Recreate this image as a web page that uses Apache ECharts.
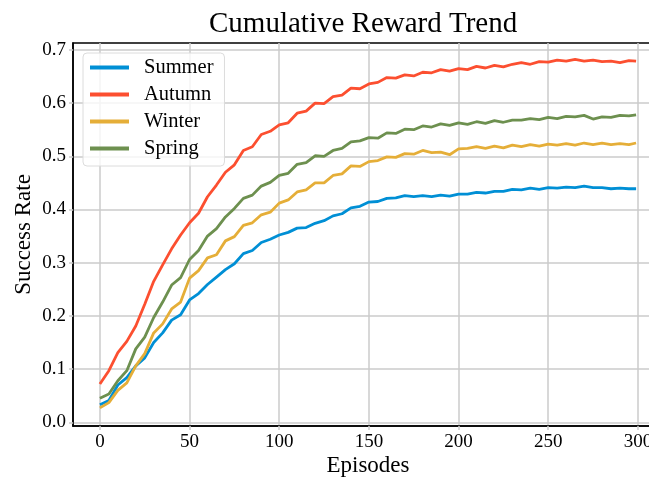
<!DOCTYPE html>
<html>
<head>
<meta charset="utf-8">
<script src="https://cdn.jsdelivr.net/npm/echarts@6.0.0/dist/echarts.min.js"></script>
<style>
  html, body { margin: 0; padding: 0; background: #fff; }
  #chart { width: 649px; height: 477px; }
</style>
</head>
<body>
<div id="chart"></div>
<script>
// episodes sampled every 5 steps (last one is 299)
const episodes = [0, 5, 10, 15, 20, 25, 30, 35, 40, 45, 50, 55, 60, 65, 70, 75, 80, 85, 90, 95,
  100, 105, 110, 115, 120, 125, 130, 135, 140, 145, 150, 155, 160, 165, 170, 175, 180, 185, 190, 195,
  200, 205, 210, 215, 220, 225, 230, 235, 240, 245, 250, 255, 260, 265, 270, 275, 280, 285, 290, 295, 299]

const summer = [0.033, 0.041, 0.070, 0.084, 0.106, 0.121, 0.150, 0.168, 0.192, 0.202,
  0.230, 0.242, 0.259, 0.273, 0.287, 0.298, 0.317, 0.323, 0.338, 0.344,
  0.352, 0.357, 0.365, 0.366, 0.374, 0.379, 0.388, 0.392, 0.403, 0.406,
  0.414, 0.415, 0.421, 0.422, 0.426, 0.424, 0.426, 0.424, 0.427, 0.425,
  0.429, 0.429, 0.432, 0.431, 0.434, 0.434, 0.438, 0.437, 0.440, 0.438,
  0.441, 0.440, 0.442, 0.441, 0.444, 0.441, 0.441, 0.439, 0.440, 0.439, 0.439]

const autumn = [0.072, 0.097, 0.131, 0.152, 0.181, 0.222, 0.265, 0.296, 0.326, 0.352,
  0.375, 0.393, 0.424, 0.446, 0.470, 0.484, 0.511, 0.518, 0.541, 0.547,
  0.559, 0.563, 0.581, 0.585, 0.600, 0.599, 0.612, 0.615, 0.628, 0.627,
  0.636, 0.639, 0.648, 0.647, 0.653, 0.651, 0.658, 0.657, 0.663, 0.660,
  0.665, 0.663, 0.669, 0.666, 0.671, 0.668, 0.673, 0.676, 0.673, 0.678,
  0.677, 0.681, 0.679, 0.682, 0.679, 0.681, 0.678, 0.679, 0.676, 0.680, 0.679]

const winter = [0.027, 0.037, 0.060, 0.074, 0.106, 0.129, 0.168, 0.185, 0.213, 0.226,
  0.271, 0.285, 0.309, 0.315, 0.341, 0.349, 0.370, 0.375, 0.390, 0.395,
  0.412, 0.418, 0.433, 0.437, 0.450, 0.450, 0.464, 0.467, 0.482, 0.481,
  0.490, 0.492, 0.499, 0.498, 0.505, 0.504, 0.511, 0.507, 0.508, 0.503,
  0.514, 0.515, 0.518, 0.515, 0.519, 0.516, 0.521, 0.518, 0.522, 0.519,
  0.523, 0.521, 0.524, 0.521, 0.525, 0.522, 0.525, 0.522, 0.524, 0.522, 0.525]

const spring = [0.045, 0.053, 0.078, 0.097, 0.138, 0.160, 0.197, 0.226, 0.258, 0.272,
  0.306, 0.323, 0.350, 0.364, 0.386, 0.402, 0.421, 0.427, 0.444, 0.451,
  0.464, 0.468, 0.485, 0.488, 0.501, 0.500, 0.511, 0.515, 0.527, 0.529,
  0.535, 0.534, 0.544, 0.543, 0.551, 0.550, 0.557, 0.555, 0.561, 0.558,
  0.563, 0.560, 0.565, 0.562, 0.567, 0.564, 0.568, 0.568, 0.571, 0.569,
  0.573, 0.571, 0.575, 0.574, 0.577, 0.570, 0.574, 0.573, 0.577, 0.576, 0.578]

const xTicks = [0, 50, 100, 150, 200, 250, 300]
const yTicks = [0, 0.1, 0.2, 0.3, 0.4, 0.5, 0.6, 0.7]

const seriesList = [
  { name: 'Summer', values: summer, color: '#008fd5' },
  { name: 'Autumn', values: autumn, color: '#fc4f30' },
  { name: 'Winter', values: winter, color: '#e5ae38' },
  { name: 'Spring', values: spring, color: '#6d904f' }
]

const font = 'Liberation Serif'
const gridColor = '#cbcbcb'
const chart = echarts.init(document.getElementById('chart'))

chart.setOption({
  animation: false,
  backgroundColor: '#fff',
  title: {
    text: 'Cumulative Reward Trend',
    left: 209,
    top: 10,
    padding: 0,
    textStyle: { fontFamily: font, fontSize: 29, fontWeight: 'normal', color: '#000' }
  },
  legend: {
    orient: 'vertical',
    left: 83,
    top: 53,
    padding: [4, 11, 7, 7],
    icon: 'rect',
    itemWidth: 39,
    itemHeight: 4,
    itemGap: 6,
    borderColor: '#dcdcdc',
    borderWidth: 1,
    borderRadius: 4,
    backgroundColor: 'rgba(255,255,255,0.8)',
    textStyle: { fontFamily: font, fontSize: 20.5, lineHeight: 20, color: '#000', padding: [0, 0, 0, 10] }
  },
  grid: {
    left: 73,
    right: -14,
    top: 43,
    bottom: 51,
    outerBoundsMode: 'none',
    show: true,
    borderColor: '#000',
    borderWidth: 1.5,
    backgroundColor: 'transparent'
  },
  xAxis: {
    type: 'value',
    min: -15,
    max: 314,
    name: 'Episodes',
    nameLocation: 'middle',
    nameGap: 28,
    nameMoveOverlap: false,
    nameTextStyle: { fontFamily: font, fontSize: 23, color: '#000' },
    axisLine: { show: true, onZero: false, lineStyle: { color: '#000', width: 1.5 } },
    axisTick: { show: true, length: 4, customValues: xTicks, lineStyle: { color: gridColor, width: 1.5 } },
    axisLabel: { customValues: xTicks, margin: 7, fontFamily: font, fontSize: 19, color: '#000' },
    splitLine: { show: true, lineStyle: { color: gridColor, width: 1.5 } }
  },
  yAxis: {
    type: 'value',
    min: -0.007,
    max: 0.713,
    name: 'Success Rate',
    nameLocation: 'middle',
    nameGap: 38,
    nameMoveOverlap: false,
    nameTextStyle: { fontFamily: font, fontSize: 23, color: '#000' },
    axisLine: { show: true, onZero: false, lineStyle: { color: '#000', width: 1.5 } },
    axisTick: { show: true, length: 4, customValues: yTicks, lineStyle: { color: gridColor, width: 1.5 } },
    axisLabel: {
      customValues: yTicks,
      margin: 7,
      fontFamily: font,
      fontSize: 19,
      color: '#000',
      formatter: v => v.toFixed(1)
    },
    splitLine: { show: true, lineStyle: { color: gridColor, width: 1.5 } }
  },
  series: seriesList.map(s => ({
    name: s.name,
    type: 'line',
    symbol: 'none',
    color: s.color,
    lineStyle: { color: s.color, width: 2.8 },
    data: episodes.map((ep, i) => [ep, s.values[i]])
  }))
})
</script>
</body>
</html>
